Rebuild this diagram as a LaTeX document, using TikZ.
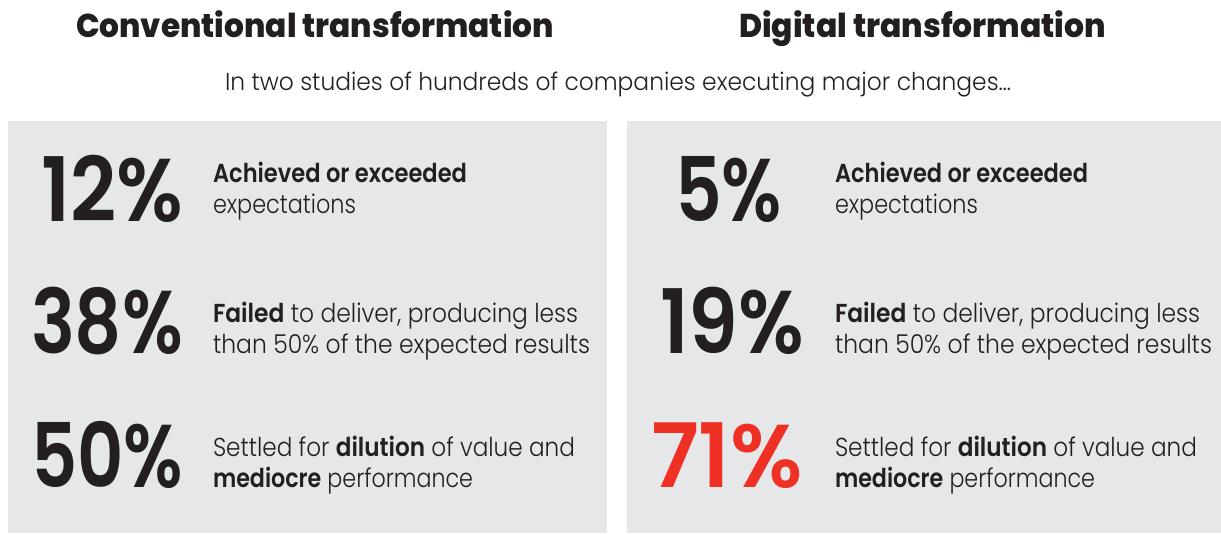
\documentclass[tikz,border=0pt]{standalone}
\usepackage{fontspec}
\setmainfont{Poppins Light}[BoldFont={Poppins SemiBold}]
\newfontfamily\titlefont{Poppins ExtraBold}
\newfontfamily\numfont{Poppins SemiBold}
\usepackage{graphicx}
\definecolor{ink}{HTML}{231F20}
\definecolor{panelgray}{HTML}{E6E7E8}
\definecolor{accent}{HTML}{EE3124}
\newsavebox\fitbox
\newcommand\fitw[2]{\sbox\fitbox{#2}\pgfmathsetmacro\fitsx{#1/\the\wd\fitbox}\scalebox{\fitsx}[1]{\usebox\fitbox}}
\tikzset{
  base/.style={anchor=base west, inner sep=0pt, outer sep=0pt, text=ink},
  ttl/.style={base, font=\titlefont\fontsize{33}{33}\selectfont},
  sub/.style={base, font=\fontsize{24.5}{28}\selectfont},
  txt/.style={base, font=\fontsize{26}{31}\selectfont},
  num/.style={base, font=\numfont\fontsize{89}{89}\selectfont},
  panel/.style={fill=panelgray, draw=none}
}
\begin{document}
\begin{tikzpicture}[x=1pt,y=-1pt]
\useasboundingbox (0,0) rectangle (1221,533);
\fill[white] (0,0) rectangle (1221,533);
% panels
\path[panel] (8,121) rectangle (607,533);
\path[panel] (627,121) rectangle (1221,533);
% titles
\node[ttl] (t1) at (76,37) {\fitw{478}{Conventional transformation}};
\node[ttl] (t2) at (739,37) {\fitw{367}{Digital transformation}};
\node[sub] (st) at (225,90) {\fitw{786}{In two studies of hundreds of companies executing major changes…}};
% left panel
\node[num] (n1) at (41,221) {\fitw{142}{12\%}};
\node[num] (n2) at (31,353) {\fitw{152}{38\%}};
\node[num] (n3) at (31,487) {\fitw{152}{50\%}};
\node[txt] (a1) at (213,182) {\fitw{254}{\textbf{Achieved or exceeded}}};
\node[txt] (a2) at (213,213) {\fitw{143}{expectations}};
\node[txt] (b1) at (213,322) {\fitw{365}{\textbf{Failed} to deliver, producing less}};
\node[txt] (b2) at (213,353) {\fitw{377}{than 50\% of the expected results}};
\node[txt] (c1) at (213,456) {\fitw{362}{Settled for \textbf{dilution} of value and}};
\node[txt] (c2) at (213,487) {\fitw{260}{\textbf{mediocre} performance}};
% right panel
\node[num] (m1) at (675,221) {\fitw{107}{5\%}};
\node[num] (m2) at (660,353) {\fitw{144}{19\%}};
\node[num, text=accent] (m3) at (651,487) {\fitw{152}{71\%}};
\node[txt] (d1) at (835,182) {\fitw{253}{\textbf{Achieved or exceeded}}};
\node[txt] (d2) at (835,213) {\fitw{143}{expectations}};
\node[txt] (e1) at (835,322) {\fitw{365}{\textbf{Failed} to deliver, producing less}};
\node[txt] (e2) at (835,353) {\fitw{377}{than 50\% of the expected results}};
\node[txt] (f1) at (835,456) {\fitw{362}{Settled for \textbf{dilution} of value and}};
\node[txt] (f2) at (835,487) {\fitw{260}{\textbf{mediocre} performance}};
\end{tikzpicture}
\end{document}
